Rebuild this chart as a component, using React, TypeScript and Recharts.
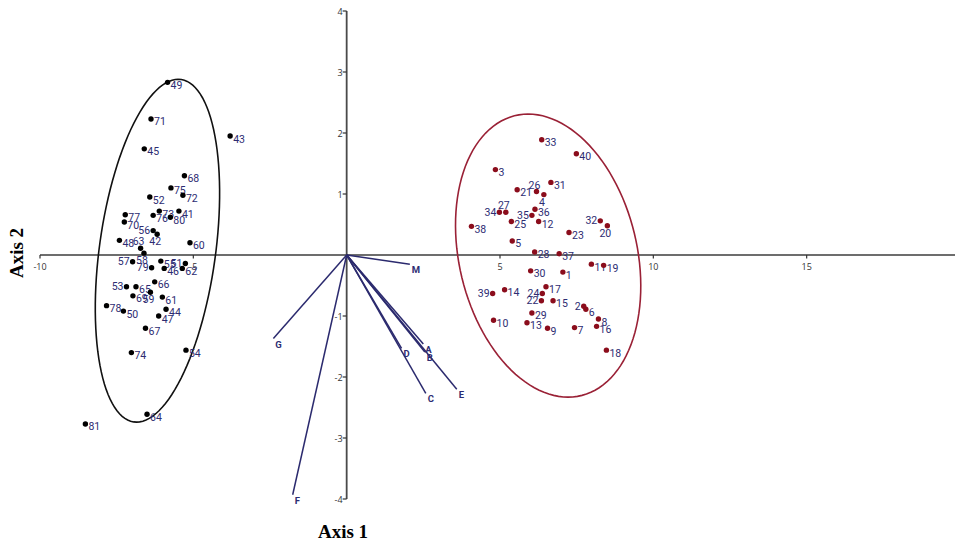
import React from "react";
import {
  ComposedChart,
  XAxis,
  YAxis,
  Scatter,
  ReferenceLine,
  ReferenceDot,
} from "recharts";

type Pt = [string, number, number];

// samples 41-81 (black group)
const groupBlack: Pt[] = [
  ["49", -5.84, 2.83], ["71", -6.38, 2.23], ["43", -3.8, 1.95], ["45", -6.6, 1.74],
  ["68", -5.29, 1.3], ["75", -5.73, 1.1], ["72", -5.34, 0.98], ["52", -6.42, 0.95],
  ["73", -6.11, 0.72], ["41", -5.47, 0.72], ["76", -6.31, 0.65], ["80", -5.75, 0.62],
  ["77", -7.22, 0.66], ["70", -7.25, 0.54], ["56", -6.31, 0.4], ["42", -6.18, 0.34],
  ["48", -7.41, 0.24], ["63", -6.72, 0.11], ["60", -5.11, 0.2], ["58", -6.61, 0.03],
  ["57", -6.98, -0.11], ["55", -6.06, -0.1], ["51", -5.26, -0.14], ["62", -5.36, -0.22],
  ["79", -6.36, -0.21], ["46", -5.95, -0.22], ["66", -6.26, -0.44], ["53", -7.18, -0.52],
  ["65", -6.87, -0.52], ["59", -6.4, -0.61], ["69", -6.97, -0.67], ["61", -6.01, -0.69],
  ["78", -7.83, -0.83], ["50", -7.28, -0.92], ["44", -5.89, -0.89], ["47", -6.13, -1.0],
  ["67", -6.56, -1.2], ["74", -7.02, -1.6], ["54", -5.24, -1.56], ["64", -6.51, -2.61],
  ["81", -8.52, -2.77],
];

// samples 1-40 (red group)
const groupRed: Pt[] = [
  ["1", 7.05, -0.28], ["2", 7.73, -0.84], ["3", 4.85, 1.4], ["4", 6.43, 0.99],
  ["5", 5.4, 0.23], ["6", 7.8, -0.89], ["7", 7.43, -1.19], ["8", 8.21, -1.05],
  ["9", 6.55, -1.2], ["10", 4.79, -1.07], ["11", 7.98, -0.15], ["12", 6.26, 0.55],
  ["13", 5.88, -1.11], ["14", 5.15, -0.57], ["15", 6.73, -0.75], ["16", 8.15, -1.17],
  ["17", 6.5, -0.52], ["18", 8.47, -1.56], ["19", 8.38, -0.17], ["20", 8.5, 0.48],
  ["21", 5.56, 1.07], ["22", 6.35, -0.75], ["23", 7.25, 0.37], ["24", 6.38, -0.63],
  ["25", 5.37, 0.55], ["26", 6.19, 1.04], ["27", 5.19, 0.7], ["28", 6.13, 0.05],
  ["29", 6.04, -0.95], ["30", 6.0, -0.26], ["31", 6.66, 1.19], ["32", 8.27, 0.56],
  ["33", 6.36, 1.89], ["34", 4.98, 0.7], ["35", 6.04, 0.65], ["36", 6.14, 0.75],
  ["37", 6.93, 0.02], ["38", 4.07, 0.47], ["39", 4.76, -0.63], ["40", 7.49, 1.66],
];

// variable loadings (arrow tips)
const loadings: Pt[] = [
  ["M", 2.06, -0.15], ["G", -2.39, -1.37], ["A", 2.5, -1.46], ["B", 2.55, -1.59],
  ["D", 1.79, -1.53], ["C", 2.58, -2.27], ["E", 3.59, -2.2], ["F", -1.76, -3.93],
];

// ellipses: centre, conjugate semi-diameters
const ellipseBlack = { cx: -6.17, cy: 0.07, u: [0.68, 2.81], v: [1.91, 0] };
const ellipseRed = { cx: 6.57, cy: -0.01, u: [-0.65, 2.32], v: [2.95, 0] };

const xTicks = [-10, -5, 5, 10, 15];
const yTicks = [4, 3, 2, 1, -1, -2, -3, -4];

const labelLeft = new Set(["57", "53", "79", "51", "56", "39", "34", "35", "24", "22", "2", "32"]);
const labelAbove = new Set(["26", "27", "63"]);
const labelBelow = new Set(["4", "20", "42", "58", "59"]);

const NAVY = "#2d2c72";
const DARKRED = "#8b0d1c";

const toRows = (pts: Pt[]) => pts.map(([id, x, y]) => ({ id, x, y }));

const ellipsePts = (e: typeof ellipseBlack) => {
  const out: { x: number; y: number }[] = [];
  for (let i = 0; i <= 120; i++) {
    const t = (i / 120) * Math.PI * 2;
    out.push({
      x: e.cx + e.u[0] * Math.cos(t) + e.v[0] * Math.sin(t),
      y: e.cy + e.u[1] * Math.cos(t) + e.v[1] * Math.sin(t),
    });
  }
  return out;
};

const labelFont = "'Liberation Sans Narrow', Roboto, sans-serif";

const pointShape = (color: string) => (props: any) => {
  const { cx, cy, payload } = props;
  const id = payload.id;
  let tx = cx + 3;
  let ty = cy + 6.5;
  let anchor: "start" | "end" | "middle" = "start";
  if (labelLeft.has(id)) {
    tx = cx - 3;
    ty = cy + 3.5;
    anchor = "end";
  } else if (labelAbove.has(id)) {
    tx = cx - 2;
    ty = cy - 3;
    anchor = "middle";
  } else if (labelBelow.has(id)) {
    tx = cx - 2;
    ty = cy + 11;
    anchor = "middle";
  }
  return (
    <g>
      <circle cx={cx} cy={cy} r={2.7} fill={color} />
      <text x={tx} y={ty} textAnchor={anchor} fontSize={10.5} fontFamily={labelFont} fill={NAVY}>
        {id}
      </text>
    </g>
  );
};

const loadingShape = (props: any) => (
  <text x={props.cx + 2} y={props.cy + 9} fontSize={9.5} fontWeight="bold" fontFamily={labelFont} fill={NAVY}>
    {props.payload.id}
  </text>
);

const noDot = () => <g />;

export default function App() {
  return (
    <div style={{ position: "absolute", left: 0, top: 0, width: 955, height: 543, overflow: "hidden", background: "#fff" }}>
      <ComposedChart width={965} height={543} margin={{ top: 11, right: 5, bottom: 44, left: 40 }}>
        <XAxis type="number" dataKey="x" domain={[-10, 20]} hide />
        <YAxis type="number" dataKey="y" domain={[-4, 4]} hide />

        <Scatter data={ellipsePts(ellipseBlack)} line={{ stroke: "#111", strokeWidth: 1.6 }} shape={noDot} isAnimationActive={false} />
        <Scatter data={ellipsePts(ellipseRed)} line={{ stroke: "#9a2136", strokeWidth: 1.6 }} shape={noDot} isAnimationActive={false} />

        <ReferenceLine y={0} stroke="#3c3c3c" strokeWidth={1.6} />
        <ReferenceLine x={0} stroke="#4a4a4a" strokeWidth={1.8} />

        {xTicks.map((v) => (
          <ReferenceDot
            key={"xt" + v}
            x={v}
            y={0}
            r={0}
            shape={(p: any) => (
              <g>
                <line x1={p.cx} y1={p.cy} x2={p.cx} y2={p.cy + 3.5} stroke="#333" strokeWidth={1.2} />
                <text x={p.cx} y={p.cy + 15} textAnchor="middle" fontSize={9} fontFamily="'Open Sans', sans-serif" fill="#333">
                  {v}
                </text>
              </g>
            )}
          />
        ))}
        {yTicks.map((v) => (
          <ReferenceDot
            key={"yt" + v}
            x={0}
            y={v}
            r={0}
            shape={(p: any) => (
              <g>
                <line x1={p.cx - 4} y1={p.cy} x2={p.cx} y2={p.cy} stroke="#333" strokeWidth={1.2} />
                <text x={p.cx - 4} y={p.cy + 3.5} textAnchor="end" fontSize={9} fontFamily="'Open Sans', sans-serif" fill="#333">
                  {v}
                </text>
              </g>
            )}
          />
        ))}

        {loadings.map(([id, x, y]) => (
          <ReferenceLine
            key={"v" + id}
            segment={[{ x: 0, y: 0 }, { x, y }]}
            stroke="#2b2a6e"
            strokeWidth={1.5}
          />
        ))}
        <Scatter data={toRows(loadings)} shape={loadingShape} isAnimationActive={false} />

        <Scatter data={toRows(groupBlack)} shape={pointShape("#000")} isAnimationActive={false} />
        <Scatter data={toRows(groupRed)} shape={pointShape(DARKRED)} isAnimationActive={false} />
      </ComposedChart>

      <div
        style={{
          position: "absolute", left: 343, top: 532, transform: "translate(-50%, -50%)",
          fontFamily: "'Liberation Serif', serif", fontWeight: "bold", fontSize: 19, whiteSpace: "nowrap",
        }}
      >
        Axis 1
      </div>
      <div
        style={{
          position: "absolute", left: 17, top: 253, transform: "translate(-50%, -50%) rotate(-90deg)",
          fontFamily: "'Liberation Serif', serif", fontWeight: "bold", fontSize: 19, whiteSpace: "nowrap",
        }}
      >
        Axis 2
      </div>
    </div>
  );
}
